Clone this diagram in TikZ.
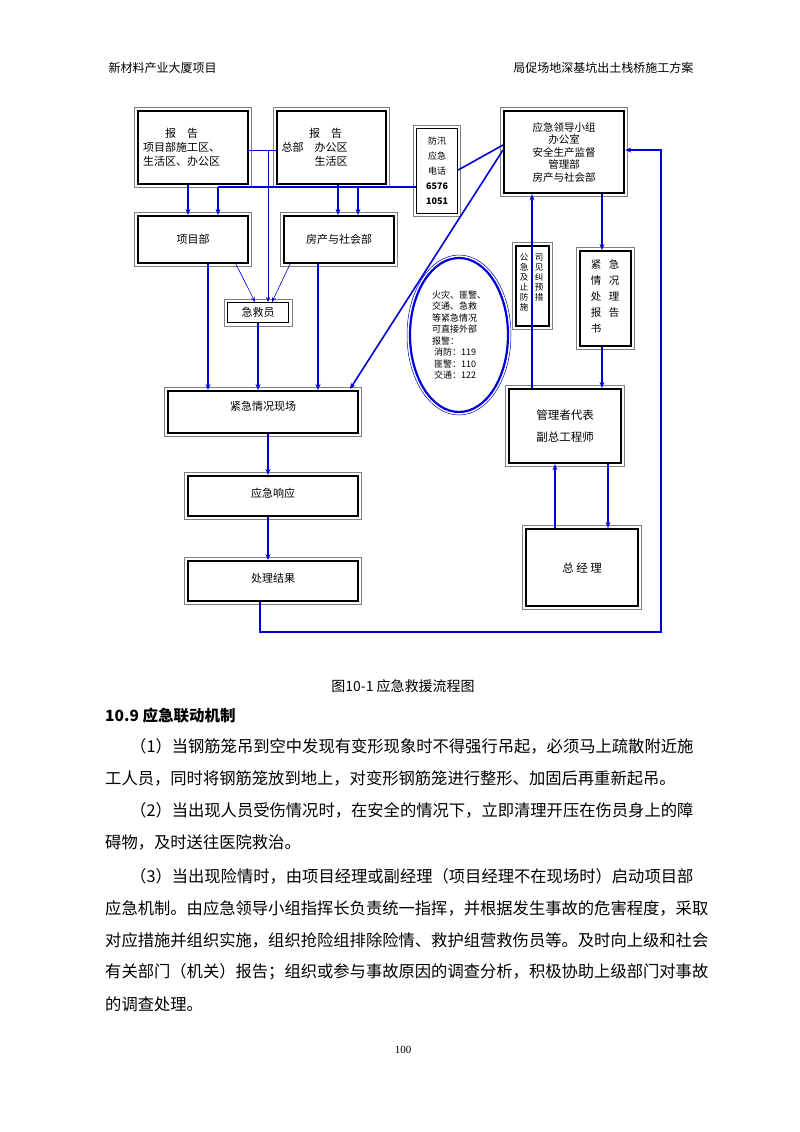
\documentclass[tikz,border=0pt]{standalone}
\usepackage{fontspec}
\setmainfont{Liberation Serif}
\newfontfamily\cjk{Noto Sans CJK SC}
\usetikzlibrary{arrows.meta}
\begin{document}
\begin{tikzpicture}[x=1pt,y=-1pt,
  box/.style={draw=black,line width=2.2pt,fill=white,inner sep=2pt,font=\cjk\fontsize{11}{14}\selectfont,align=center},
  arr/.style={draw=blue!85!black,line width=1.6pt,-{Stealth[length=6pt,width=5pt]}},
  ln/.style={draw=blue!85!black,line width=1.6pt},
  thin/.style={draw=blue!80!black,line width=0.6pt,-{Stealth[length=5pt,width=4pt]}},
  body/.style={anchor=west,font=\cjk\fontsize{16.3}{18}\selectfont,inner sep=0pt}]
\useasboundingbox[fill=white] (0,0) rectangle (800,1132);
% header
\node[anchor=west,font=\cjk\fontsize{12}{14}\selectfont] (h1) at (105,68) {新材料产业大厦项目};
\node[anchor=east,font=\cjk\fontsize{12}{14}\selectfont] (h2) at (697,68) {局促场地深基坑出土栈桥施工方案};
% boxes
\node[box,minimum width=110,minimum height=73,anchor=north west,align=left,text width=100] (r1) at (137,110) {\hspace*{2em}报\quad 告\\项目部施工区、\\生活区、办公区};
\node[box,minimum width=109,minimum height=73,anchor=north west,align=left,text width=100] (r2) at (276,110) {\hspace*{2.5em}报\quad 告\\总部\quad 办公区\\\hspace*{3em}生活区};
\node[box,line width=1.2pt,minimum width=41,minimum height=85,anchor=north west,font=\cjk\fontsize{9}{15}\selectfont] (fx) at (416,128) {防汛\\应急\\电话\\\textbf{6576}\\\textbf{1051}};
\node[box,minimum width=120,minimum height=82,anchor=north west,font=\cjk\fontsize{10.5}{12.5}\selectfont] (ld) at (503,110) {应急领导小组\\办公室\\安全生产监督\\管理部\\房产与社会部};
\node[box,minimum width=110,minimum height=47,anchor=north west] (xm) at (137,215) {项目部};
\node[box,minimum width=110,minimum height=47,anchor=north west] (fc) at (283,215) {房产与社会部};
\node[box,line width=1.4pt,minimum width=61,minimum height=20,anchor=north west] (jj) at (227,302) {急救员};
\node[box,minimum width=33,minimum height=80,anchor=north west] (gs) at (515,245) {};
\node[font=\cjk\fontsize{8.5}{10}\selectfont,align=center,anchor=north] (gs1) at (524,250) {公\\急\\及\\止\\防\\施};
\node[font=\cjk\fontsize{8.5}{10}\selectfont,align=center,anchor=north] (gs2) at (539,250) {司\\见\\纠\\预\\措};
\node[box,minimum width=51,minimum height=95,anchor=north west] (bg) at (579,250) {};
\node[font=\cjk\fontsize{10.5}{16}\selectfont,align=center,anchor=north] (bg1) at (596,256) {紧\\情\\处\\报\\书};
\node[font=\cjk\fontsize{10.5}{16}\selectfont,align=center,anchor=north] (bg2) at (614,256) {急\\况\\理\\告};
\draw[blue!85!black,line width=2.2pt] (459,335) ellipse (49 and 77);
\draw[blue!70!black,line width=0.5pt] (459,335) ellipse (52 and 80);
\node[font=\cjk\fontsize{9}{11.5}\selectfont,align=left] (el) at (459,335) {火灾、匪警、\\交通、急救\\等紧急情况\\可直接外部\\报警：\\\ 消防：119\\\ 匪警：110\\\ 交通：122};
\node[box,minimum width=190,minimum height=42,anchor=north west] (xc) at (167,390) {\raisebox{12pt}{紧急情况现场}};
\node[box,minimum width=112,minimum height=74,anchor=north west,font=\cjk\fontsize{11.5}{22}\selectfont] (gl) at (508,388) {管理者代表\\副总工程师};
\node[box,minimum width=170,minimum height=40,anchor=north west] (xy) at (187,475) {\raisebox{6pt}{应急响应}};
\node[box,minimum width=170,minimum height=40,anchor=north west] (cl) at (187,560) {\raisebox{6pt}{处理结果}};
\node[box,minimum width=112,minimum height=77,anchor=north west,font=\cjk\fontsize{11.5}{13}\selectfont] (zj) at (525,528) {总 经 理};
\foreach \n in {r1,r2,fx,ld,xm,fc,jj,gs,bg,xc,gl,xy,cl,zj}
  \draw[gray,line width=0.7pt] ([shift={(-2.5pt,2.5pt)}]\n.north west) rectangle ([shift={(2.5pt,-2.5pt)}]\n.south east);
% connectors
\draw[arr] (r1.south -| 188,0) -- (xm.north -| 188,0);
\draw[ln] (fx.west |- 0,187) -- (218,187) coordinate (c1);
\draw[arr] (c1) -- (xm.north -| c1);
\draw[arr] (r2.south -| 338,0) -- (fc.north -| 338,0);
\draw[arr] (358,187) -- (fc.north -| 358,0);
\draw[blue!80!black,line width=0.5pt] (r1.east |- 0,150) -- (r2.west |- 0,150);
\draw[thin] (268,150) -- (jj.north -| 268,0);
\draw[thin] (xm.south -| 236,0) -- (255,302);
\draw[thin] (fc.south -| 290,0) -- (272,302);
\draw[arr] (xm.south -| 208,0) -- (xc.north -| 208,0);
\draw[arr] (jj.south -| 258,0) -- (xc.north -| 258,0);
\draw[arr] (fc.south -| 318,0) -- (xc.north -| 318,0);
\draw[ln] (fx.east |- 0,170) -- (ld.west |- 0,145);
\draw[arr] (ld.west |- 0,150) -- (350,389);
\draw[arr] (gl.north -| 532,0) -- (ld.south -| 532,0);
\draw[arr] (ld.south -| 602,0) -- (bg.north -| 602,0);
\draw[arr] (bg.south -| 602,0) -- (gl.north -| 602,0);
\draw[arr] (xc.south -| 268,0) -- (xy.north -| 268,0);
\draw[arr] (xy.south -| 268,0) -- (cl.north -| 268,0);
\draw[arr] (zj.north -| 555,0) -- (gl.south -| 555,0);
\draw[arr] (gl.south -| 608,0) -- (zj.north -| 608,0);
\draw[arr] (cl.south -| 260,0) -- (260,632) -- (661,632) -- (661,150) -- (ld.east |- 0,150);
% caption and text
\node[font=\cjk\fontsize{14}{16}\selectfont] (cap) at (403,686) {图10-1 应急救援流程图};
\node[body,font=\cjk\bfseries\fontsize{15.5}{18}\selectfont] (t0) at (105,716) {10.9 应急联动机制};
\node[body] (t1) at (130,746) {（1）当钢筋笼吊到空中发现有变形现象时不得强行吊起，必须马上疏散附近施};
\node[body] (t2) at (105,778) {工人员，同时将钢筋笼放到地上，对变形钢筋笼进行整形、加固后再重新起吊。};
\node[body] (t3) at (130,810) {（2）当出现人员受伤情况时，在安全的情况下，立即清理开压在伤员身上的障};
\node[body] (t4) at (105,842) {碍物，及时送往医院救治。};
\node[body] (t5) at (130,876) {（3）当出现险情时，由项目经理或副经理（项目经理不在现场时）启动项目部};
\node[body] (t6) at (105,908) {应急机制。由应急领导小组指挥长负责统一指挥，并根据发生事故的危害程度，采取};
\node[body] (t7) at (105,940) {对应措施并组织实施，组织抢险组排除险情、救护组营救伤员等。及时向上级和社会};
\node[body] (t8) at (105,972) {有关部门（机关）报告；组织或参与事故原因的调查分析，积极协助上级部门对事故};
\node[body] (t9) at (105,1004) {的调查处理。};
\node[font=\fontsize{11}{13}\selectfont] (pg) at (403,1050) {100};
\end{tikzpicture}
\end{document}
